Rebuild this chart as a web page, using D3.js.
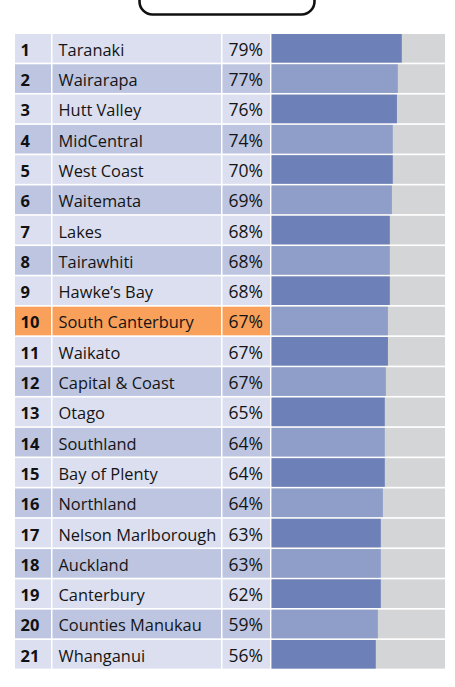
<!DOCTYPE html>
<html>
<head>
<meta charset="utf-8">
<script src="https://cdn.jsdelivr.net/npm/d3@7"></script>
<style>
  body { margin:0; background:#fff; }
  svg { display:block; font-family:"Open Sans", "Noto Sans", sans-serif; }
</style>
</head>
<body>
<div id="chart"></div>
<script>
// ranked regions, label percentages and bar scores (bars)
var ranks = [1,2,3,4,5,6,7,8,9,10,11,12,13,14,15,16,17,18,19,20,21];
var regions = ["Taranaki","Wairarapa","Hutt Valley","MidCentral","West Coast","Waitemata","Lakes",
  "Tairawhiti","Hawke\u2019s Bay","South Canterbury","Waikato","Capital & Coast","Otago","Southland",
  "Bay of Plenty","Northland","Nelson Marlborough","Auckland","Canterbury","Counties Manukau","Whanganui"];
var pctLabels = [79,77,76,74,70,69,68,68,68,67,67,67,65,64,64,64,63,63,62,59,56];
var barScores = [75.1,72.8,72.3,69.9,69.9,69.4,68.2,68.2,68.2,67.1,67.1,65.9,65.3,65.3,65.3,64.2,63.0,63.0,63.0,61.3,60.1];
var highlight = "South Canterbury";

var W = 455, H = 687;
var tableTop = 34, tableBottom = 668.6;
var col = {rank:[15,51], name:[52.5,221], pct:[222.5,270], bar:[271.5,445]};

var svg = d3.select("#chart").append("svg")
  .attr("width", W).attr("height", H);

// the cut-off box at the top
svg.append("rect")
  .attr("x", 139.5).attr("y", -40)
  .attr("width", 175).attr("height", 54.5)
  .attr("rx", 13)
  .attr("fill", "#fff")
  .attr("stroke", "#111")
  .attr("stroke-width", 2.6);

var rows = regions.map(function(d,i){
  return {rank:ranks[i], name:d, pct:pctLabels[i], score:barScores[i], i:i};
});

var y = d3.scaleBand()
  .domain(regions)
  .range([tableTop, tableBottom])
  .paddingInner(0.055)
  .paddingOuter(0);

var x = d3.scaleLinear()
  .domain([0,100])
  .range([col.bar[0], col.bar[1]]);

function cellFill(d){
  if (d.name === highlight) return "#f9a15a";
  return d.i % 2 === 0 ? "#dcdfef" : "#bdc5e1";
}

var g = svg.selectAll(".row")
  .data(rows)
  .enter().append("g")
  .attr("class","row")
  .attr("transform", function(d){ return "translate(0," + y(d.name) + ")"; });

["rank","name","pct"].forEach(function(k){
  g.append("rect")
    .attr("x", col[k][0])
    .attr("width", col[k][1]-col[k][0])
    .attr("height", y.bandwidth())
    .attr("fill", cellFill);
});

// gray track
g.append("rect")
  .attr("x", x(0))
  .attr("width", x(100)-x(0))
  .attr("height", y.bandwidth())
  .attr("fill", "#d4d5d7");

g.append("rect")
  .attr("x", x(0))
  .attr("width", function(d){ return x(d.score)-x(0); })
  .attr("height", y.bandwidth())
  .attr("fill", function(d){ return d.i % 2 === 0 ? "#6d81b8" : "#8e9ec9"; });

var base = 21.8; // text baseline inside a row

g.append("text")
  .attr("x", 20.5).attr("y", base)
  .attr("font-weight", "bold")
  .attr("font-size", 16.5)
  .attr("fill", "#111")
  .text(function(d){ return d.rank; });

g.append("text")
  .attr("x", 58.5).attr("y", base)
  .attr("font-size", 16.4)
  .attr("fill", "#151515")
  .text(function(d){ return d.name; });

g.append("text")
  .attr("x", 228.5).attr("y", base)
  .attr("font-size", 17.5)
  .attr("fill", "#151515")
  .text(function(d){ return d.pct + "%"; });
</script>
</body>
</html>
